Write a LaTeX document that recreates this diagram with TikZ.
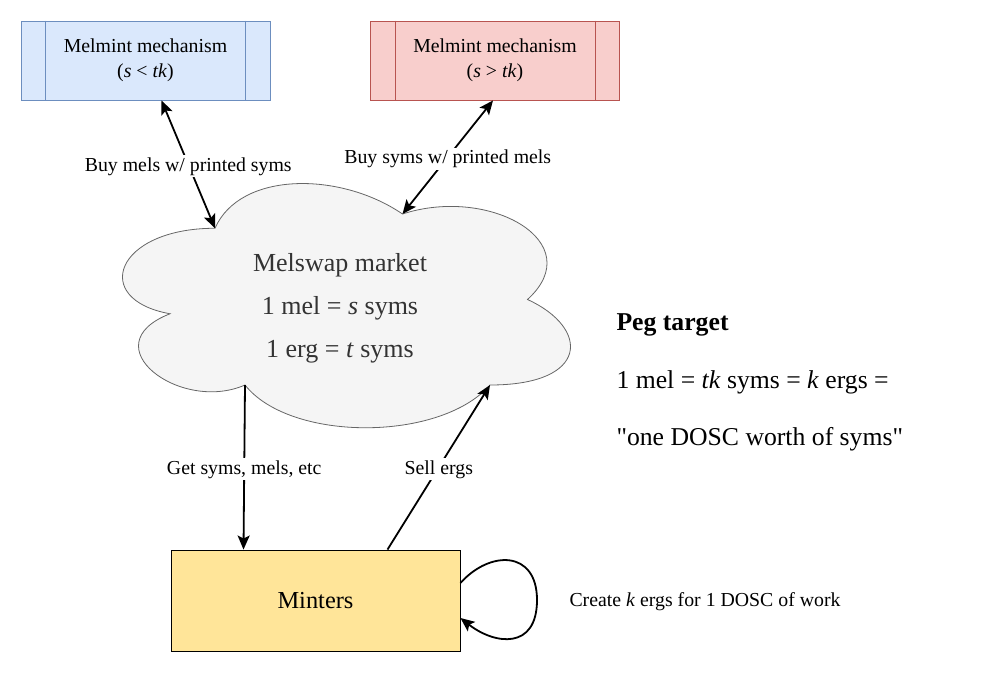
\documentclass[tikz,border=0pt]{standalone}
\usepackage{fontspec}
\setmainfont{Liberation Serif}
\usepackage{xcolor}
\usetikzlibrary{arrows.meta,positioning,calc}

\definecolor{blueFill}{HTML}{DAE8FC}
\definecolor{blueLine}{HTML}{6C8EBF}
\definecolor{redFill}{HTML}{F8CECC}
\definecolor{redLine}{HTML}{B85450}
\definecolor{cloudFill}{HTML}{F5F5F5}
\definecolor{cloudLine}{HTML}{666666}
\definecolor{cloudText}{HTML}{333333}
\definecolor{minterFill}{HTML}{FFE599}

\begin{document}
\begin{tikzpicture}[
    x=1pt, y=-1pt,
    mech/.style={rectangle, draw, line width=0.9pt, minimum width=249pt, minimum height=79pt,
        align=center, font=\fontsize{19.8}{25}\selectfont},
    lbl/.style={fill=white, inner sep=2pt, font=\fontsize{19.8}{24}\selectfont},
    arrow/.style={-{Stealth[length=14pt,width=12pt,inset=3pt]}, line width=1.8pt},
    both/.style={{Stealth[length=14pt,width=12pt,inset=3pt]}-{Stealth[length=14pt,width=12pt,inset=3pt]}, line width=1.8pt}
]
    \useasboundingbox (0,0) rectangle (982,672);

    % mechanisms
    \node[mech, fill=blueFill, draw=blueLine] (mechLo) at (145.5,60.5) {Melmint mechanism\\(\textit{s} < \textit{tk})};
    \node[mech, fill=redFill, draw=redLine] (mechHi) at (495,60.5) {Melmint mechanism\\(\textit{s} > \textit{tk})};
    \foreach \m/\c in {mechLo/blueLine, mechHi/redLine} {
        \draw[\c, line width=0.9pt] ([xshift=25pt]\m.north west) -- ([xshift=25pt]\m.south west);
        \draw[\c, line width=0.9pt] ([xshift=-25pt]\m.north east) -- ([xshift=-25pt]\m.south east);
    }

    % market cloud
    \begin{scope}[shift={(90,157)}, x=500pt, y=-285pt]
        \draw[fill=cloudFill, draw=cloudLine, line width=0.8pt]
            (0.25,0.25) .. controls (0.05,0.25) and (0,0.5) .. (0.16,0.55)
            .. controls (0,0.66) and (0.18,0.9) .. (0.31,0.8)
            .. controls (0.4,1) and (0.7,1) .. (0.8,0.8)
            .. controls (1,0.8) and (1,0.6) .. (0.875,0.5)
            .. controls (1,0.3) and (0.8,0.1) .. (0.625,0.2)
            .. controls (0.5,0.05) and (0.3,0.05) .. cycle;
        \coordinate (cloudTL) at (0.25,0.25);
        \coordinate (cloudTR) at (0.625,0.2);
        \coordinate (cloudBL) at (0.31,0.8);
        \coordinate (cloudBR) at (0.8,0.8);
    \end{scope}
    \node[align=center, text=cloudText, font=\fontsize{26}{43}\selectfont] (market) at (340,308)
        {Melswap market\\1 mel = \textit{s} syms\\1 erg = \textit{t} syms};

    % minters
    \node[rectangle, draw, line width=0.9pt, fill=minterFill, minimum width=289pt, minimum height=101pt,
        font=\fontsize{24.4}{28}\selectfont] (minters) at (315.5,600.5) {Minters};

    % trades
    \draw[both] ([xshift=16pt]mechLo.south) -- (cloudTL)
        node[midway, lbl, yshift=-2pt] {Buy mels w/ printed syms};
    \draw[both] ([xshift=-2pt]mechHi.south) -- (cloudTR)
        node[midway, lbl, yshift=-2pt] {Buy syms w/ printed mels};
    \draw[arrow] (cloudBL) -- ([xshift=-72pt]minters.north)
        node[midway, lbl, yshift=-2pt] {Get syms, mels, etc};
    \draw[arrow] ([xshift=72pt]minters.north) -- (cloudBR)
        node[midway, lbl, yshift=-2pt] {Sell ergs};

    % work loop
    \draw[arrow] ([yshift=17.5pt]minters.east) .. controls (490,550) and (537,550) .. (537,600)
        .. controls (537,650) and (495,645) .. ([yshift=-17.5pt]minters.east);
    \node[anchor=west, font=\fontsize{19.8}{24}\selectfont] (work) at (566,602) {Create \textit{k} ergs for 1 DOSC of work};

    % peg
    \node[anchor=west, font=\fontsize{25.7}{30}\selectfont\bfseries] (peg) at (613,325) {Peg target};
    \node[anchor=west, font=\fontsize{25.7}{30}\selectfont] (pegA) at (613,382) {1 mel = \textit{tk} syms = \textit{k} ergs =};
    \node[anchor=west, font=\fontsize{25.7}{30}\selectfont] (pegB) at (613,439) {\textquotedbl one DOSC worth of syms\textquotedbl};
\end{tikzpicture}
\end{document}
